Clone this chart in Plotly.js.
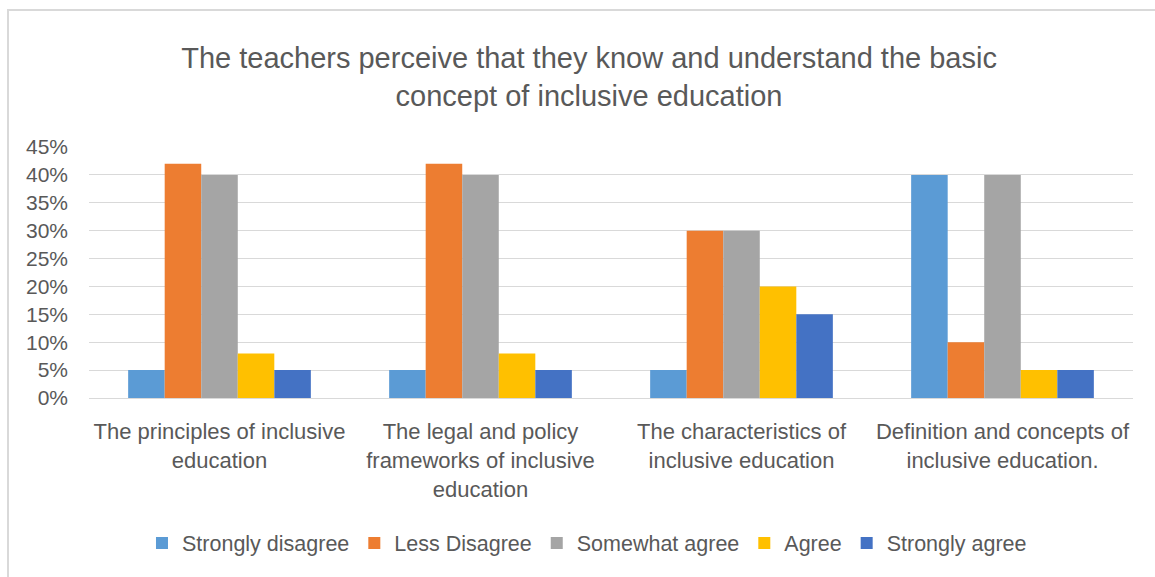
<!DOCTYPE html>
<html>
<head>
<meta charset="utf-8">
<script src="https://cdn.plot.ly/plotly-3.0.1.min.js"></script>
<style>
  html, body { margin: 0; padding: 0; background: #fff; }
  #wrap { position: relative; width: 1155px; height: 577px; overflow: hidden; }
  #chart { position: absolute; left: 0; top: 0; width: 1155px; height: 577px; }
  #frame { position: absolute; left: 7px; top: 9px; width: 1170px; height: 600px;
           border: 2px solid #d9d9d9; box-sizing: border-box; pointer-events: none; }
</style>
</head>
<body>
<div id="wrap">
  <div id="chart"></div>
  <div id="frame"></div>
</div>
<script>
const categories = [
  "The principles of inclusive<br>education",
  "The legal and policy<br>frameworks of inclusive<br>education",
  "The characteristics of<br>inclusive education",
  "Definition and concepts of<br>inclusive education."
];
const seriesNames = ["Strongly disagree", "Less Disagree", "Somewhat agree", "Agree", "Strongly agree"];
const stronglyDisagree = [0.05, 0.05, 0.05, 0.40];
const lessDisagree     = [0.42, 0.42, 0.30, 0.10];
const somewhatAgree    = [0.40, 0.40, 0.30, 0.40];
const agree            = [0.08, 0.08, 0.20, 0.05];
const stronglyAgree    = [0.05, 0.05, 0.15, 0.05];
const seriesColors = ["#5B9BD5", "#ED7D31", "#A5A5A5", "#FFC000", "#4472C4"];
const yTickVals = [0, 0.05, 0.10, 0.15, 0.20, 0.25, 0.30, 0.35, 0.40, 0.45];

const allValues = [stronglyDisagree, lessDisagree, somewhatAgree, agree, stronglyAgree];
const FONT = '"Liberation Sans Narrow", "Arial Narrow", "Liberation Sans", sans-serif';
const TXT = '#595959';

const traces = allValues.map((vals, i) => ({
  type: 'bar',
  name: seriesNames[i],
  x: categories,
  y: vals,
  marker: { color: seriesColors[i] },
  hoverinfo: 'x+y+name'
}));

const layout = {
  width: 1155,
  height: 577,
  paper_bgcolor: 'rgba(0,0,0,0)',
  plot_bgcolor: 'rgba(0,0,0,0)',
  margin: { l: 89, r: 22, t: 147, b: 179 },
  font: { family: FONT, color: TXT, size: 20 },
  title: {
    text: 'The teachers perceive that they know and understand the basic<br>concept of inclusive education',
    font: { family: FONT, size: 29, color: TXT },
    xref: 'container', yref: 'container',
    x: 0.51, xanchor: 'center',
    y: 1 - 68 / 577, yanchor: 'top'
  },
  barmode: 'group',
  bargap: 0.3,
  bargroupgap: 0,
  xaxis: {
    type: 'category',
    showline: true,
    linecolor: '#d9d9d9',
    linewidth: 1,
    showgrid: false,
    ticks: '',
    ticklabelstandoff: 14,
    tickfont: { family: FONT, size: 22, color: TXT },
    tickangle: 0,
    automargin: false
  },
  yaxis: {
    range: [0, 0.45],
    tickvals: yTickVals,
    tickformat: '.0%',
    showgrid: true,
    gridcolor: '#d9d9d9',
    gridwidth: 1,
    zeroline: false,
    showline: false,
    ticks: '',
    ticklabelstandoff: 20,
    tickfont: { family: FONT, size: 21, color: TXT },
    automargin: false
  },
  legend: {
    orientation: 'h',
    x: 0.477, xanchor: 'center',
    y: -0.578, yanchor: 'middle',
    font: { family: FONT, size: 21.5, color: TXT },
    traceorder: 'normal',
    itemclick: false
  },
  showlegend: true
};

Plotly.newPlot('chart', traces, layout, { displayModeBar: false, staticPlot: false });
</script>
</body>
</html>
